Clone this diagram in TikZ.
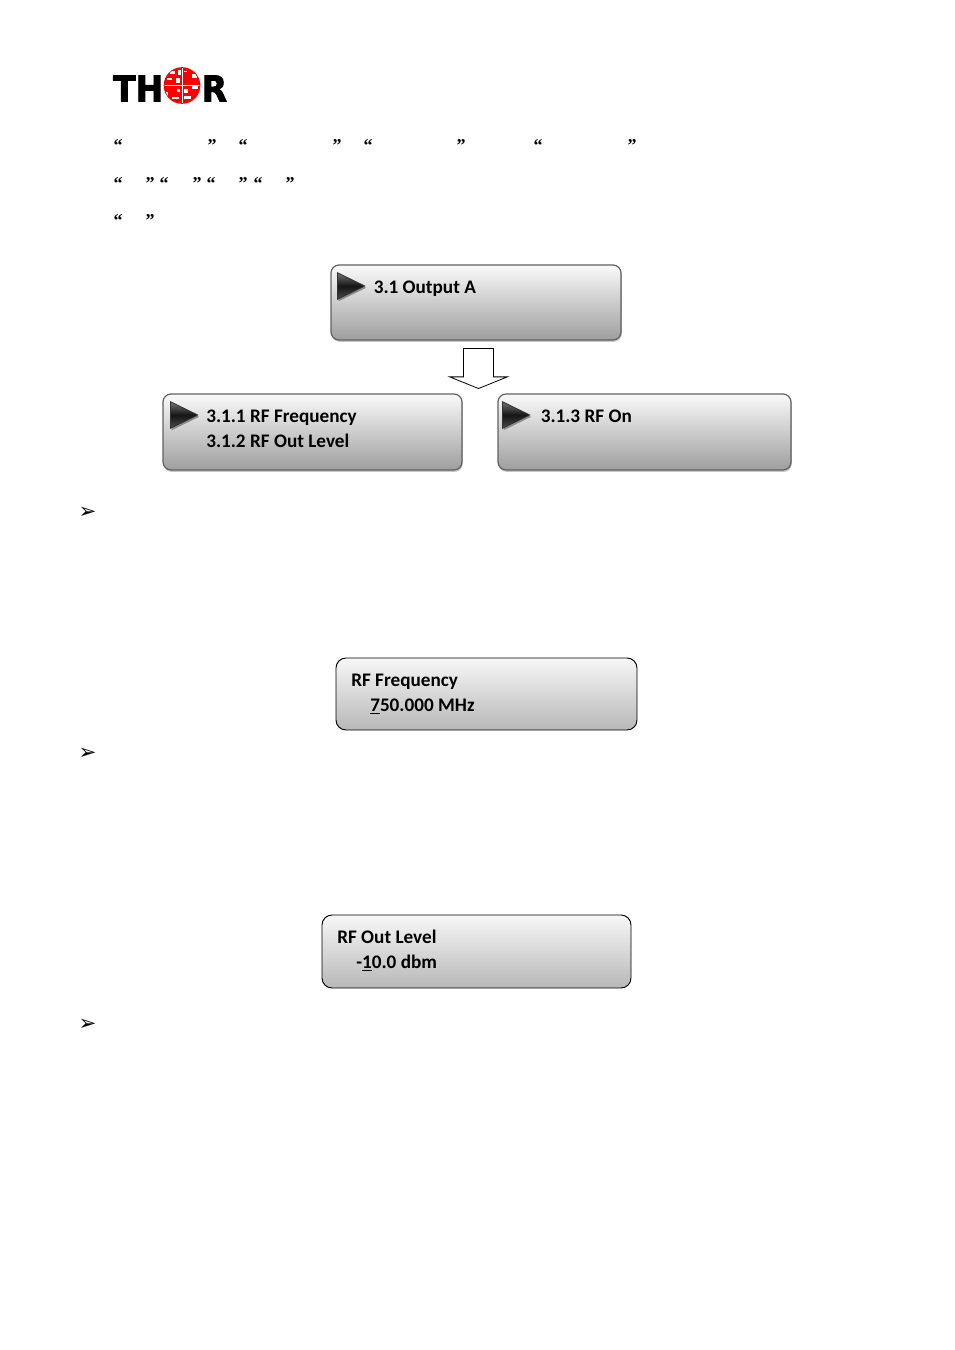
\documentclass[tikz,border=0pt]{standalone}
\usepackage{fontspec}
\setmainfont{Carlito}
\newfontfamily\quotefont{Liberation Serif}
\newfontfamily\bulletfont{DejaVu Sans}
\newfontfamily\logofont[FakeBold=2.5]{DejaVu Sans Bold}
\usetikzlibrary{shapes.geometric,shapes.arrows,shadows}

\begin{document}
\begin{tikzpicture}
[x=0.75pt,y=-0.75pt,%
  menuDecorate/.style={rounded corners=6pt,draw=black!62,line width=0.9pt,
    top color=black!2,bottom color=black!38,
    drop shadow={shadow xshift=0.6pt,shadow yshift=-1.4pt,fill=black!22,opacity=1}},%
  panelDecorate/.style={rounded corners=7.5pt,draw=black,line width=0.7pt,
    top color=black!3,bottom color=black!28},%
  playDecorate/.style={shape=isosceles triangle,isosceles triangle apex angle=52,
    inner sep=0pt,minimum height=19.5pt,minimum width=20pt,draw=black!80,line width=0.6pt,
    top color=black!55,bottom color=black!70,middle color=black!92,
    drop shadow={shadow xshift=1pt,shadow yshift=-1.4pt,fill=black!45,opacity=1}},%
  labelDecorate/.style={anchor=base west,inner sep=0pt,font=\fontsize{14.4pt}{16pt}\selectfont\bfseries},%
  quoteDecorate/.style={anchor=base,inner sep=0pt,font=\quotefont\fontsize{13.5pt}{15pt}\selectfont\bfseries},%
  logoDecorate/.style={anchor=base west,inner sep=0pt,xscale=0.92,font=\logofont\fontsize{26.8pt}{28pt}\selectfont}]
\useasboundingbox (0,0) rectangle (954,1350);
%% logo
\node (logoT) at (113,101.5) [logoDecorate] {TH};
\node (logoR) at (201.5,101.5) [logoDecorate] {R};
\node (globe) at (182,85.5) [shape=circle,fill=red,inner sep=0pt,minimum size=27.5pt] {};
\begin{scope}
  \clip (182,85.5) circle (17.5);
  \foreach \xa/\ya/\xb/\yb in {
    170/71/175/74, 178/70/181/75, 167/78/172/80, 176/78/180/83, 166/92/168/96,
    184/71/187/72, 192/74/197/78, 184/89/188/93, 192/85/198/89, 172/97/179/99,
    184/96/191/99, 177/89/180/92}
  {
    \fill[white] (\xa,\ya) rectangle (\xb,\yb);
  }
  \draw[white,line width=0.4pt] (164,85.5) -- (200,85.5) (182,67) -- (182,104);
\end{scope}
%% quotes
\foreach \quotename/\x/\y/\txt in {
  qa/118/151/“, qb/212/151/”, qc/243/151/“, qd/337/151/”, qe/368/151/“, qf/461/151/”,
  qg/538/151/“, qh/632/151/”,
  qi/118/189/“, qj/150/189/”, qk/164/189/“, ql/197/189/”, qm/211/189/“, qn/243/189/”,
  qo/258/189/“, qp/290/189/”,
  qq/118/226/“, qr/150/226/”}
{
  \node (\quotename) at (\x,\y) [quoteDecorate] {\txt};
}
%% menu boxes
\foreach \nodename/\xa/\ya/\xb/\yb in {
  outputBox/331/265/621/340, freqBox/163/394/462/470, onBox/498/394/791/470}
{
  \path[menuDecorate] (\xa,\ya) rectangle (\xb,\yb);
  \coordinate (\nodename) at (\xa,\ya);
}
\foreach \nodename/\x/\y in {
  playA/337/286, playB/170/415, playC/502/415}
{
  \node (\nodename) at (\x,\y) [playDecorate,anchor=west] {};
}
%% block arrow
\node (downArrow) at (478.5,365.5) [shape=single arrow,rotate=-90,draw,line width=0.6pt,
  inner xsep=0pt,inner ysep=10.9pt,minimum height=30pt,single arrow head extend=10.4pt,
  single arrow tip angle=136] {};
%% panels
\foreach \nodename/\xa/\ya/\xb/\yb in {
  freqPanel/336/658/637/730, levelPanel/322/915/631/988}
{
  \path[panelDecorate] (\xa,\ya) rectangle (\xb,\yb);
  \coordinate (\nodename) at (\xa,\ya);
}
%% labels
\foreach \nodename/\x/\y/\txt in {
  la/373.5/293/3.1 Output A, lb/206/422/3.1.1 RF Frequency, lc/206/447/3.1.2 RF Out Level,
  ld/540.5/422/3.1.3 RF On, le/351/686/RF Frequency, lg/337/943/RF Out Level}
{
  \node (\nodename) at (\x,\y) [labelDecorate] {\txt};
}
\node (lf) at (370,711) [labelDecorate] {\underline{7}50.000 MHz};
\node (lh) at (356,968) [labelDecorate] {-\underline{1}0.0 dbm};
%% bullets
\foreach \nodename/\y in {bulletA/513, bulletB/754, bulletC/1025}
{
  \node (\nodename) at (87.5,\y) [inner sep=0pt,font=\bulletfont\fontsize{16pt}{18pt}\selectfont] {➢};
}
\end{tikzpicture}
\end{document}
